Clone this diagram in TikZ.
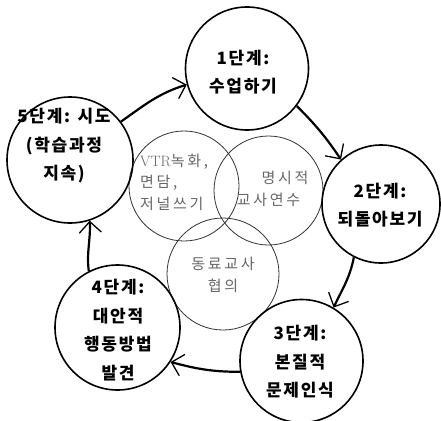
\documentclass[tikz,border=0pt]{standalone}
\usepackage{fontspec}
\usetikzlibrary{arrows.meta}
\newfontfamily\kr{Noto Sans CJK KR}[LetterSpace=10]
\newfontfamily\krthin{Noto Sans CJK KR}[LetterSpace=18]
\begin{document}
\begin{tikzpicture}[x=1pt,y=-1pt,
  stage/.style={circle,draw,line width=1.6pt,inner sep=0pt},
  sub/.style={circle,draw=black!80,line width=0.8pt,inner sep=0pt},
  stxt/.style={font=\kr\fontsize{17pt}{28.5pt}\selectfont\bfseries,align=center,inner sep=0pt},
  itxt/.style={font=\krthin\fontsize{15pt}{21.5pt}\selectfont,text=black!60,align=left,inner sep=0pt},
  flow/.style={line width=2.2pt,-{Straight Barb[length=11pt,width=22pt,line width=1.3pt]}}]
\useasboundingbox (0,0) rectangle (441,420);
% inner overlapping circles
\node[sub,minimum size=110pt] (v) at (184,186) {};
\node[sub,minimum size=109pt] (m) at (268.5,190.5) {};
\node[sub,minimum size=112pt] (d) at (223,274) {};
% stage circles
\node[stage,minimum size=123pt] (c1) at (247,68.5) {};
\node[stage,minimum size=118pt] (c2) at (381,204) {};
\node[stage,minimum size=123pt] (c3) at (301.5,361) {};
\node[stage,minimum size=125pt] (c4) at (117.5,327.5) {};
\node[stage,minimum size=126pt] (c5) at (70,160) {};
% stage texts
\node[stxt] (t1) at (243,72) {1단계:\\수업하기};
\node[stxt] (t2) at (380,205) {2단계:\\되돌아보기};
\node[stxt] (t3) at (300,362) {3단계:\\본질적\\문제인식};
\node[stxt] (t4) at (118,330) {4단계:\\대안적\\행동방법\\발견};
\node[stxt] (t5) at (64,146) {5단계: 시도\\(학습과정\\지속)};
% inner texts
\node[itxt,anchor=west] (iv) at (140,182) {{\rmfamily VTR}녹화,\\면담,\\저널쓰기};
\node[itxt] (im1) at (285,178) {명시적};
\node[itxt] (im2) at (268.5,200) {교사연수};
\node[itxt,align=center] (id) at (223,275) {동료교사\\협의};
% cycle arrows
\draw[flow] (c5.37) to[out=35,in=197] (c1.195);
\draw[flow] (c1.-37) to[out=-45,in=124] (c2.132);
\draw[flow] (c2.243) to[out=259,in=65] (c3.59);
\draw[flow] (c3.190) to[out=180,in=-15] (c4.-33);
\draw[flow] (c4.117) to[out=97,in=-87] (c5.-72);
\end{tikzpicture}
\end{document}
